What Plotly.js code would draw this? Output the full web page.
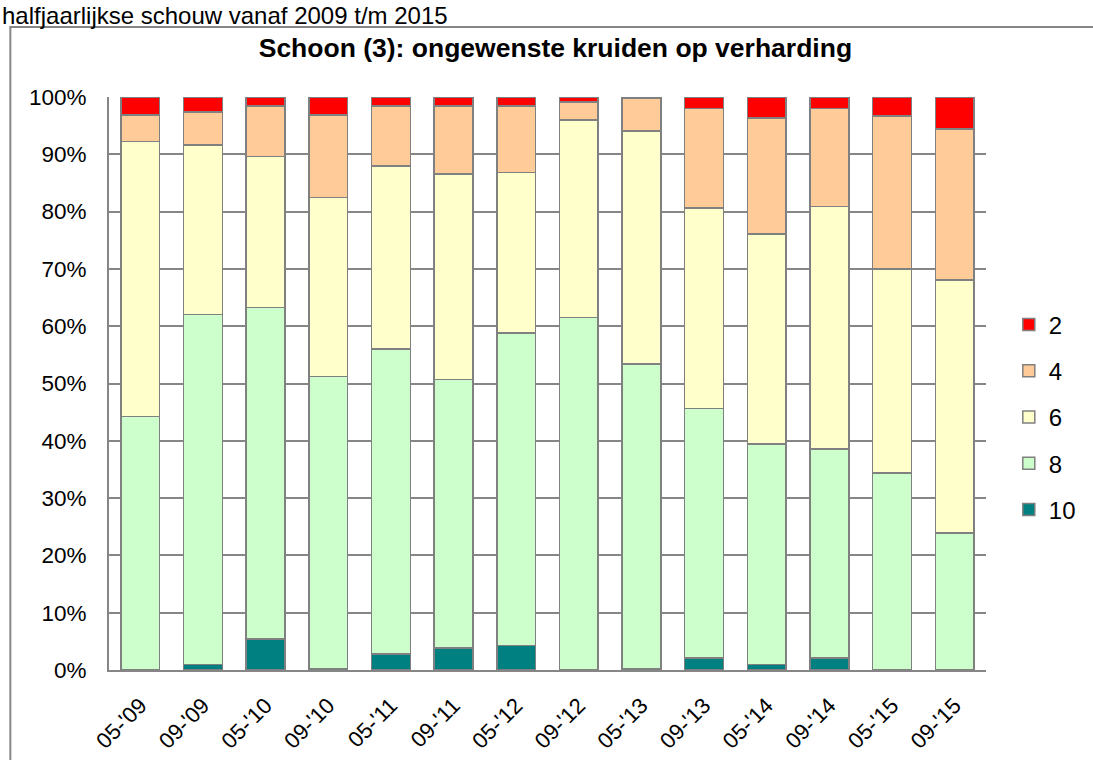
<!DOCTYPE html>
<html>
<head>
<meta charset="utf-8">
<script src="https://cdn.plot.ly/plotly-3.0.1.min.js"></script>
<style>html,body{margin:0;padding:0;background:#fff;}#chart{width:1093px;height:760px;}</style>
</head>
<body>
<div id="chart"></div>
<script>
const categories = ["05-'09","09-'09","05-'10","09-'10","05-'11","09-'11","05-'12","09-'12","05-'13","09-'13","05-'14","09-'14","05-'15","09-'15"];
const score10 = [0, 1.0, 5.4, 0.3, 2.8, 3.8, 4.3, 0, 0.3, 2.1, 1.0, 2.1, 0, 0];
const score8  = [44.2, 61.0, 57.9, 50.9, 53.2, 46.9, 54.5, 61.5, 53.1, 43.5, 38.4, 36.5, 34.4, 23.9];
const score6  = [48.0, 29.6, 26.3, 31.3, 32.0, 35.9, 28.0, 34.5, 40.7, 35.0, 36.7, 42.3, 35.6, 44.2];
const score4  = [4.7, 5.8, 8.8, 14.4, 10.4, 11.8, 11.6, 3.1, 5.7, 17.4, 20.2, 17.1, 26.7, 26.3];
const score2  = [3.1, 2.6, 1.6, 3.1, 1.6, 1.6, 1.6, 0.9, 0.2, 2.0, 3.7, 2.0, 3.3, 5.6];
const seriesNames = ["10","8","6","4","2"];
const seriesColors = ["#008080","#CCFFCC","#FFFFCC","#FFCC99","#FF0000"];
const seriesValues = [score10, score8, score6, score4, score2];
const titleText = "Schoon (3): ongewenste kruiden op verharding";
const subtitleText = "halfjaarlijkse schouw vanaf 2009 t/m 2015";

const FONT = "Liberation Sans, Arial, sans-serif";
const traces = seriesValues.map((vals, i) => ({
  type: "bar",
  name: seriesNames[i],
  x: categories,
  y: vals,
  legendgroup: "g" + i,
  legendrank: seriesValues.length - i,
  marker: {color: seriesColors[i], line: {color: "#808080", width: 1.5}},
  hoverinfo: "name+y"
}));

const layout = {
  width: 1093, height: 760,
  margin: {l: 109, r: 104, t: 97, b: 90},
  paper_bgcolor: "#ffffff", plot_bgcolor: "#ffffff",
  barmode: "stack", bargap: 0.38,
  font: {family: FONT, size: 22, color: "#000"},
  title: {text: "<b>" + titleText + "</b>", font: {family: FONT, size: 26.5, color: "#000"},
          xref: "paper", x: 0.509, xanchor: "center", yref: "container", y: 1 - 48/760, yanchor: "middle"},
  xaxis: {type: "category", showgrid: false, showline: true, linecolor: "#868686", linewidth: 2,
          tickangle: -45, ticks: "", ticklabelstandoff: 12, tickfont: {size: 22}, fixedrange: true},
  yaxis: {range: [0, 100], dtick: 10, ticksuffix: "%", showgrid: true, gridcolor: "#868686", gridwidth: 2,
          showline: true, linecolor: "#868686", linewidth: 2, zeroline: false, ticks: "",
          ticklabelstandoff: 16, tickfont: {size: 22.5}, fixedrange: true},
  legend: {x: 1.026, xanchor: "left", y: 0.4415, yanchor: "middle", traceorder: "grouped",
           tracegroupgap: 12, font: {size: 24}, bgcolor: "rgba(0,0,0,0)"},
  shapes: [
    {type: "rect", xref: "paper", yref: "paper", x0: -0.1125, x1: 1.3, y0: -0.3, y1: (670 - 27)/573,
     line: {color: "#868686", width: 2}, fillcolor: "rgba(0,0,0,0)", layer: "below"}
  ],
  annotations: [
    {text: subtitleText, xref: "paper", yref: "paper", x: -109/880, xanchor: "left",
     y: (670 + 0)/573, yanchor: "top", showarrow: false, font: {family: FONT, size: 24, color: "#000"}}
  ]
};

Plotly.newPlot("chart", traces, layout, {displayModeBar: false, staticPlot: true});
</script>
</body>
</html>
